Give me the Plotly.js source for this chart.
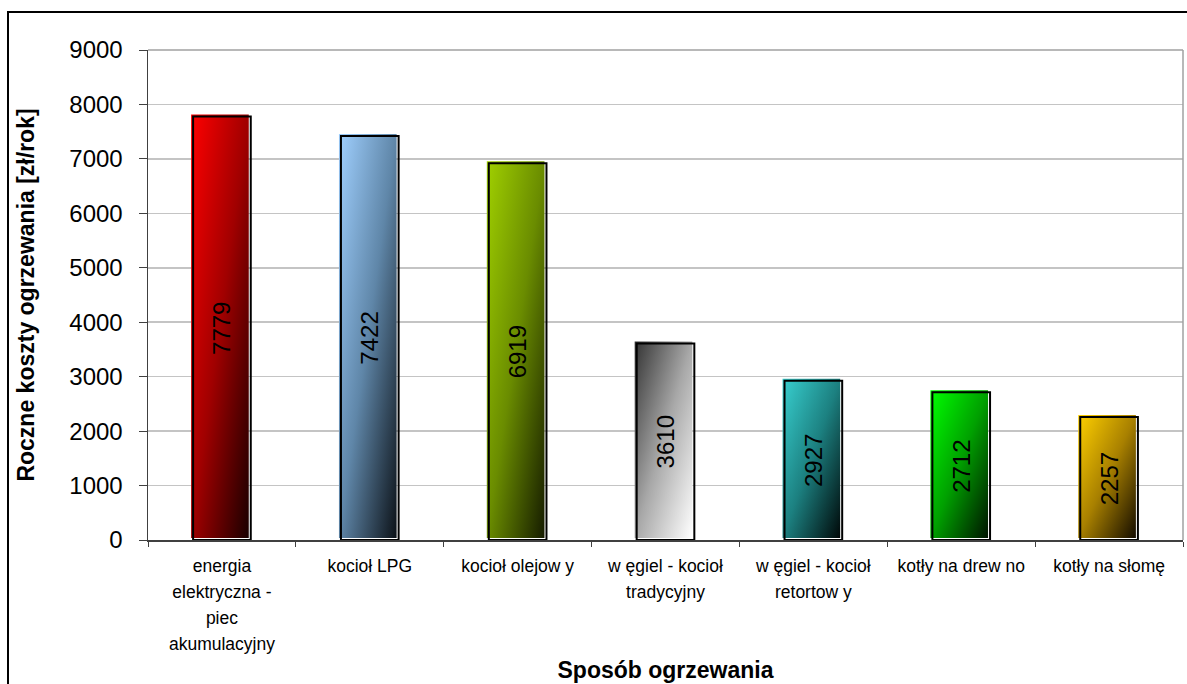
<!DOCTYPE html>
<html>
<head>
<meta charset="utf-8">
<script src="https://cdn.plot.ly/plotly-3.0.1.min.js"></script>
<style>
  html, body { margin: 0; padding: 0; background: #fff; }
  #chart { width: 1187px; height: 684px; }
</style>
</head>
<body>
<div id="chart"></div>
<script>
// Heating methods and their yearly cost (zł/rok)
const categories = [
  "energia elektryczna - piec akumulacyjny",
  "kocioł LPG",
  "kocioł olejow y",
  "w ęgiel - kocioł tradycyjny",
  "w ęgiel - kocioł retortow y",
  "kotły na drew no",
  "kotły na słomę"
];
const tickLabels = [
  "energia<br>elektryczna -<br>piec<br>akumulacyjny",
  "kocioł LPG",
  "kocioł olejow y",
  "w ęgiel - kocioł<br>tradycyjny",
  "w ęgiel - kocioł<br>retortow y",
  "kotły na drew no",
  "kotły na słomę"
];
const costs = [7779, 7422, 6919, 3610, 2927, 2712, 2257];
const yTicks = [0, 1000, 2000, 3000, 4000, 5000, 6000, 7000, 8000, 9000];

// Per-bar shading: [top-left colour, middle, bottom-right colour]
const barShades = [
  ["#ff0000", "#a00000", "#1a0000"],
  ["#a0d0ff", "#5f86a8", "#0c1218"],
  ["#a0d000", "#6a8c00", "#161c00"],
  ["#333333", "#a8a8a8", "#ffffff"],
  ["#38d0d0", "#1c8080", "#000808"],
  ["#00ff00", "#00a000", "#001400"],
  ["#ffd000", "#a88000", "#140c00"]
];

const FONT = "Liberation Sans, Arial, sans-serif";

const fillTrace = {
  type: "bar",
  x: categories,
  y: costs,
  width: 0.39,
  marker: { color: barShades.map(s => s[1]), line: { width: 0 } },
  text: costs.map(String),
  textposition: "inside",
  insidetextanchor: "middle",
  textangle: -90,
  constraintext: "none",
  textfont: { family: FONT, size: 24, color: "#000", weight: "normal" },
  insidetextfont: { family: FONT, size: 24, color: "#000", weight: "normal" },
  hoverinfo: "none"
};

const outlineTrace = {
  type: "bar",
  x: categories,
  y: costs,
  width: 0.39,
  marker: { color: "rgba(0,0,0,0)", line: { color: "#000", width: 2 } },
  hoverinfo: "skip"
};

const plotW = 1187 - 148 - 4;
const plotH = 684 - 50 - 144;

const layout = {
  width: 1187,
  height: 684,
  margin: { l: 148, r: 4, t: 50, b: 144, pad: 0 },
  paper_bgcolor: "#fff",
  plot_bgcolor: "#fff",
  showlegend: false,
  barmode: "overlay",
  font: { family: FONT, color: "#000", weight: "normal" },
  xaxis: {
    type: "category",
    range: [-0.5, categories.length - 0.5],
    tickvals: categories,
    ticktext: tickLabels,
    ticks: "outside",
    tickson: "boundaries",
    ticklen: 5,
    tickwidth: 1,
    tickcolor: "#404040",
    ticklabelstandoff: 9,
    showline: true,
    linecolor: "#404040",
    linewidth: 1.5,
    showgrid: false,
    zeroline: false,
    automargin: false,
    tickfont: { family: FONT, size: 17.5, color: "#000", weight: "normal" },
    title: { text: "Sposób ogrzewania", font: { family: FONT, size: 23, weight: "bold", color: "#000" }, standoff: 19 }
  },
  yaxis: {
    range: [0, 9000],
    tickvals: yTicks,
    ticktext: yTicks.map(String),
    ticks: "outside",
    ticklen: 8,
    tickwidth: 1,
    tickcolor: "#404040",
    ticklabelstandoff: 11,
    showline: true,
    linecolor: "#404040",
    linewidth: 1.5,
    showgrid: true,
    gridcolor: "#c4c4c4",
    gridwidth: 1.5,
    zeroline: false,
    automargin: false,
    tickfont: { family: FONT, size: 24, color: "#000", weight: "normal" },
    title: { text: "Roczne koszty ogrzewania [zł/rok]", font: { family: FONT, size: 23, weight: "bold", color: "#000" }, standoff: 28 }
  },
  shapes: [
    // plot area frame (top and right)
    { type: "line", xref: "paper", yref: "paper", x0: 0, x1: 1, y0: 1, y1: 1, line: { color: "#a0a0a0", width: 1.5 } },
    { type: "line", xref: "paper", yref: "paper", x0: 1, x1: 1, y0: 0, y1: 1, line: { color: "#a0a0a0", width: 1.5 } },
    // outer chart frame
    { type: "rect", xref: "paper", yref: "paper",
      x0: -140 / plotW, x1: 1.2, y0: -1, y1: 1 + 38 / plotH,
      line: { color: "#000", width: 2 }, fillcolor: "rgba(0,0,0,0)", layer: "above" }
  ]
};

const gd = document.getElementById("chart");
Plotly.newPlot(gd, [fillTrace, outlineTrace], layout, { staticPlot: true, displayModeBar: false }).then(() => {
  const svgNS = "http://www.w3.org/2000/svg";
  const svg = gd.querySelector("svg.main-svg");
  let defs = svg.querySelector("defs");
  if (!defs) { defs = document.createElementNS(svgNS, "defs"); svg.insertBefore(defs, svg.firstChild); }

  barShades.forEach((shade, i) => {
    const grad = document.createElementNS(svgNS, "linearGradient");
    grad.setAttribute("id", "barShade" + i);
    grad.setAttribute("x1", "0"); grad.setAttribute("y1", "0");
    grad.setAttribute("x2", "1"); grad.setAttribute("y2", "1");
    shade.forEach((c, k) => {
      const stop = document.createElementNS(svgNS, "stop");
      stop.setAttribute("offset", (k / (shade.length - 1)).toString());
      stop.setAttribute("stop-color", c);
      grad.appendChild(stop);
    });
    defs.appendChild(grad);
  });

  // gradient fill, drawn slightly up-left of the black outline
  const traces = gd.querySelectorAll("g.barlayer g.trace.bars");
  traces[0].querySelectorAll("g.point").forEach((pt, i) => {
    const path = pt.querySelector("path");
    path.style.fill = "url(#barShade" + i + ")";
    path.setAttribute("transform", "translate(-2,-2)");
  });

  // looser line spacing in category labels
  gd.querySelectorAll("g.xtick text").forEach(t => {
    t.querySelectorAll("tspan.line").forEach((ts, k) => ts.setAttribute("dy", (k * 1.5) + "em"));
  });
});
</script>
</body>
</html>
